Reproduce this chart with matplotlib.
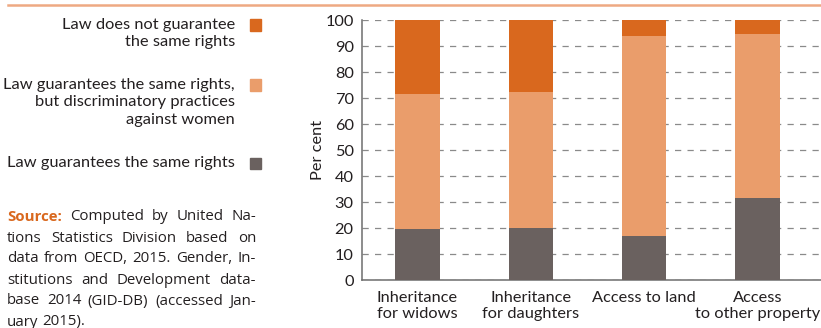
import matplotlib
matplotlib.use('Agg')
import matplotlib.pyplot as plt
from matplotlib.patches import Rectangle
from matplotlib.lines import Line2D

# data
categories = ['Inheritance\nfor widows', 'Inheritance\nfor daughters', 'Access to land', 'Access\nto other property']
same_rights = [19.7, 19.9, 17.0, 31.7]
discriminatory = [51.8, 52.3, 77.0, 63.0]
not_guaranteed = [28.5, 27.8, 6.0, 5.3]

series_labels = ['Law does not guarantee\nthe same rights',
                 'Law guarantees the same rights,\nbut discriminatory practices\nagainst women',
                 'Law guarantees the same rights']
colors = ['#D9681E', '#EA9D6B', '#6A615F']
yticks = list(range(0, 101, 10))

source_lines = ['Computed by United Na-',
                'tions Statistics Division based on',
                'data from OECD, 2015. Gender, In-',
                'stitutions and Development data-',
                'base 2014 (GID-DB) (accessed Jan-',
                'uary 2015).']

W, H = 821, 328
fig = plt.figure(figsize=(W / 100, H / 100), dpi=100)
txt_col = '#231F20'
font = 'Lato'
fs = 11.8

# top rule
fig.add_artist(Line2D([8 / W, 1], [1 - 5 / H, 1 - 5 / H], color='#EEA983', lw=1.8))

ax = fig.add_axes([362 / W, 1 - 280 / H, 1 - 362 / W, 260 / H])
x = range(len(categories))
bw = 0.39
ax.bar(x, same_rights, bw, color=colors[2], zorder=3)
ax.bar(x, discriminatory, bw, bottom=same_rights, color=colors[1], zorder=3)
bot2 = [a + b for a, b in zip(same_rights, discriminatory)]
ax.bar(x, not_guaranteed, bw, bottom=bot2, color=colors[0], zorder=3)

ax.set_xlim(-0.49, 3.56)
ax.set_ylim(0, 100)
ax.set_yticks(yticks)
ax.set_xticks(list(x))
ax.set_xticklabels(categories, fontfamily=font, fontsize=fs, color=txt_col, linespacing=1.2)
for lbl in ax.get_yticklabels():
    lbl.set_fontfamily(font)
    lbl.set_fontsize(fs)
    lbl.set_color(txt_col)
ax.tick_params(axis='y', length=0, pad=6)
ax.tick_params(axis='x', length=0, pad=8)
ax.yaxis.grid(True, color='#8A8A8A', linestyle=(0, (5, 5)), lw=0.9, zorder=0)
for s in ['top', 'right']:
    ax.spines[s].set_visible(False)
for s in ['left', 'bottom']:
    ax.spines[s].set_color('#6D6D6D')
    ax.spines[s].set_linewidth(1.1)
ax.set_ylabel('Per cent', fontfamily=font, fontsize=fs, color=txt_col, labelpad=0)

# legend on the left
leg_y = [25, 85, 163]
for lab, col, yc in zip(series_labels, colors, leg_y):
    fig.text(235 / W, 1 - (yc - 7) / H, lab, ha='right', va='top', fontfamily=font,
             fontsize=fs, color=txt_col, linespacing=1.3)
    fig.add_artist(Rectangle((250 / W, 1 - (yc + 5.5) / H), 11 / W, 11 / H,
                             transform=fig.transFigure, color=col))

# justified source note
fig.canvas.draw()
renderer = fig.canvas.get_renderer()
left, right = 7, 256
line_y = [217, 238, 259, 280, 301, 322]


def width_px(t):
    return t.get_window_extent(renderer).width


for i, (line, yc) in enumerate(zip(source_lines, line_y)):
    items = []
    if i == 0:
        items.append(('Source:', True))
    items += [(w, False) for w in line.split(' ')]
    arts = []
    for w, bold in items:
        t = fig.text(0, 1 - yc / H, w, ha='left', va='center', fontfamily='Open Sans',
                     fontsize=10.8, color='#D9681E' if bold else txt_col,
                     fontweight='bold' if bold else 'normal')
        arts.append(t)
    widths = [width_px(t) for t in arts]
    if i < len(source_lines) - 1:
        gap = (right - left - sum(widths)) / (len(arts) - 1)
    else:
        gap = 4
    xpos = left
    for t, wd in zip(arts, widths):
        t.set_x(xpos / W)
        xpos += wd + gap

fig.savefig('out.png', dpi=100)
